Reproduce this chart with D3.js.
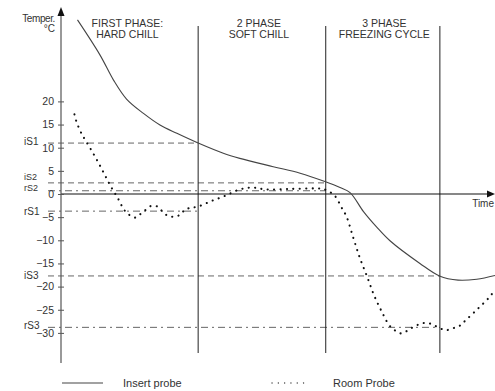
<!DOCTYPE html>
<html>
<head>
<meta charset="utf-8">
<script src="https://cdn.jsdelivr.net/npm/d3@7"></script>
<style>
  body { margin: 0; background: #fff; }
  text { font-family: "Liberation Sans", Arial, sans-serif; fill: #333; }
</style>
</head>
<body>
<div id="chart"></div>
<script>
// time is in arbitrary units (0..100), temperature in °C
var insertTime = [3.8, 9.0, 12.1, 15.1, 19.0, 22.8, 26.7, 31.6, 37.4, 41.2, 48.9, 55.1, 60.8, 64.3, 66.6, 69.7, 72.7, 75.8, 82.7, 87.2, 91.5, 95.8, 100];
var insertTemp = [37.6, 30, 24.6, 20.5, 17.4, 14.9, 13.1, 11, 8.8, 7.7, 5.9, 4.5, 2.7, 1.4, 0.3, -3.8, -7.1, -10.1, -15, -17.7, -18.6, -18.4, -17.6];

var roomTime = [3.1, 3.5, 4.7, 5.5, 7.1, 8.6, 10.1, 11.5, 13.1, 14.6, 15.7, 17.1, 18.2, 19.4, 20.7, 22.2, 23.3, 24.6, 26.1, 27.6, 28.6, 30.1, 31.9, 34.7, 37.8, 40.9, 43.9, 47.2, 52.8, 58.9, 60.4, 61.8, 63.1, 64.7, 65.8, 67.4, 68.9, 70.6, 72.1, 73.7, 75.6, 77.0, 78.3, 79.7, 81.2, 82.7, 84.3, 85.8, 87.3, 88.7, 90.3, 91.8, 93.1, 95.8, 98.5, 99.7];
var roomTemp = [17.2, 15.8, 13.1, 11.8, 9.3, 6.8, 4.1, 1.6, -0.9, -3.5, -4.5, -5.1, -4.4, -3.5, -2.6, -2.7, -3.7, -4.7, -4.9, -4.4, -3.3, -3.0, -2.6, -1.5, -0.4, 0.9, 1.4, 1.0, 1.1, 1.2, 1.1, 0.5, -0.4, -3.0, -4.9, -9.6, -13.9, -18.0, -21.8, -25.0, -28.3, -29.5, -30.1, -29.6, -28.7, -28.1, -27.8, -28.3, -29.0, -29.4, -29.0, -28.5, -27.4, -25.0, -22.5, -21.1];

var yTicks = [20, 15, 10, 5, 0, -5, -10, -15, -20, -25, -30];

var phaseEnds = [31.6, 61.0, 87.3];
var phaseLabels = [["FIRST PHASE:", "HARD CHILL"], ["2 PHASE", "SOFT CHILL"], ["3 PHASE", "FREEZING CYCLE"]];
var phaseCenters = [15.3, 45.6, 74.5];

// set points: name, value, end time, style
var setNames = ["iS1", "iS2", "rS2", "rS1", "iS3", "rS3"];
var setValues = [11, 2.4, 0.7, -3.7, -17.7, -28.8];
var setEnds = [31.6, 61.0, 61.0, 31.6, 87.3, 87.3];
var setKinds = ["dash", "dash", "dashdot", "dashdot", "dash", "dashdot"];
var setLabelDy = [-2, -6, -2.5, 0, 0, -2];
var setLabelSize = [10, 9, 9, 10, 10, 10];

var width = 495, height = 391;

var svg = d3.select("#chart").append("svg")
    .attr("width", width)
    .attr("height", height);

var x = d3.scaleLinear().domain([0, 100]).range([61, 495]);
var y = d3.scaleLinear().domain([0, 20]).range([194, 101.4]);

// set point lines
var dashes = { dash: "6,4", dashdot: "7,4,2,4" };
svg.append("g").selectAll("line")
    .data(setValues)
    .enter().append("line")
    .attr("x1", 48)
    .attr("x2", function(d, i) { return x(setEnds[i]); })
    .attr("y1", function(d) { return y(d); })
    .attr("y2", function(d) { return y(d); })
    .attr("stroke", "#666")
    .attr("stroke-width", 1)
    .attr("stroke-dasharray", function(d, i) { return dashes[setKinds[i]]; });

svg.append("g").selectAll("text")
    .data(setNames)
    .enter().append("text")
    .attr("x", 24)
    .attr("y", function(d, i) { return y(setValues[i]) + setLabelDy[i]; })
    .attr("dy", "0.35em")
    .style("font-size", function(d, i) { return setLabelSize[i] + "px"; })
    .text(String);

// phase boundaries
svg.append("g").selectAll("line")
    .data(phaseEnds)
    .enter().append("line")
    .attr("x1", function(d) { return x(d); })
    .attr("x2", function(d) { return x(d); })
    .attr("y1", 26)
    .attr("y2", 353)
    .attr("stroke", "#222")
    .attr("stroke-width", 1);

var pl = svg.append("g").selectAll("text")
    .data(phaseLabels)
    .enter().append("text")
    .attr("text-anchor", "middle")
    .style("font-size", "10.5px")
    .attr("x", function(d, i) { return x(phaseCenters[i]); })
    .attr("y", 27);
pl.append("tspan").text(function(d) { return d[0]; });
pl.append("tspan")
    .attr("x", function(d, i) { return x(phaseCenters[i]); })
    .attr("dy", 10.5)
    .text(function(d) { return d[1]; });

// axes
svg.append("line")
    .attr("x1", x(0)).attr("x2", 489)
    .attr("y1", y(0)).attr("y2", y(0))
    .attr("stroke", "#111").attr("stroke-width", 1.2);
svg.append("path")
    .attr("d", "M495," + y(0) + "L487," + (y(0) - 3.5) + "L487," + (y(0) + 3.5) + "Z")
    .attr("fill", "#111");
svg.append("line")
    .attr("x1", x(0)).attr("x2", x(0))
    .attr("y1", 363).attr("y2", 14)
    .attr("stroke", "#555").attr("stroke-width", 1.2);
svg.append("path")
    .attr("d", "M" + x(0) + ",7L" + (x(0) - 3.5) + ",16L" + (x(0) + 3.5) + ",16Z")
    .attr("fill", "#111");

var yAxis = svg.append("g")
    .attr("transform", "translate(" + x(0) + ",0)")
    .call(d3.axisLeft(y).tickValues(yTicks).tickSizeInner(3).tickSizeOuter(0).tickPadding(4));
yAxis.select(".domain").remove();
yAxis.selectAll(".tick line").attr("x1", 3).attr("stroke", "#555");
yAxis.selectAll(".tick text")
    .style("font-family", "'Liberation Sans', Arial, sans-serif")
    .style("font-size", "10.5px")
    .attr("fill", "#333");

svg.append("text").attr("x", 55).attr("y", 22).attr("text-anchor", "end")
    .style("font-size", "10px").style("letter-spacing", "-0.4px").text("Temper.");
svg.append("text").attr("x", 55).attr("y", 32).attr("text-anchor", "end")
    .style("font-size", "10px").text("°C");
svg.append("text").attr("x", 494).attr("y", 207).attr("text-anchor", "end")
    .style("font-size", "10px").text("Time");

// probes
var line = d3.line()
    .x(function(d) { return x(d[0]); })
    .y(function(d) { return y(d[1]); })
    .curve(d3.curveCatmullRom.alpha(0.5));

svg.append("path")
    .datum(d3.zip(insertTime, insertTemp))
    .attr("d", line)
    .attr("fill", "none")
    .attr("stroke", "#444")
    .attr("stroke-width", 1.1);

svg.append("path")
    .datum(d3.zip(roomTime, roomTemp))
    .attr("d", line)
    .attr("fill", "none")
    .attr("stroke", "#111")
    .attr("stroke-width", 2.1)
    .attr("stroke-linecap", "round")
    .attr("stroke-dasharray", "0.1,6.3");

// legend
svg.append("line").attr("x1", 62).attr("x2", 103).attr("y1", 383).attr("y2", 383)
    .attr("stroke", "#444").attr("stroke-width", 1.1);
svg.append("text").attr("x", 123).attr("y", 387).style("font-size", "11px").text("Insert probe");
svg.append("line").attr("x1", 272).attr("x2", 309).attr("y1", 383).attr("y2", 383)
    .attr("stroke", "#444").attr("stroke-width", 1.3)
    .attr("stroke-linecap", "round").attr("stroke-dasharray", "0.1,6.2");
svg.append("text").attr("x", 333).attr("y", 387).style("font-size", "11px").text("Room Probe");
</script>
</body>
</html>
